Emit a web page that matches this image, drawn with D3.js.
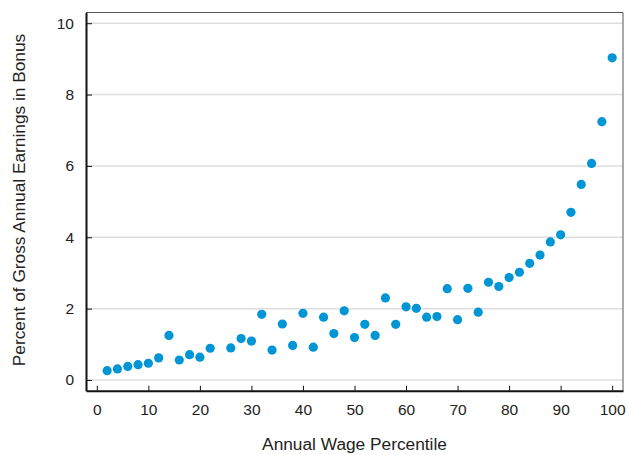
<!DOCTYPE html>
<html>
<head>
<meta charset="utf-8">
<script src="https://cdn.jsdelivr.net/npm/d3@7"></script>
<style>
  body { margin: 0; background: #fff; }
  svg { display: block; font-family: "Liberation Sans", Arial, sans-serif; }
</style>
</head>
<body>
<script>
// percentil (eje x) y porcentaje de bonus (eje y)
const percentiles = [2, 4, 6, 8, 10, 12, 14, 16, 18, 20, 22, 26, 28, 30, 32, 34, 36, 38, 40, 42,
  44, 46, 48, 50, 52, 54, 56, 58, 60, 62, 64, 66, 68, 70, 72, 74, 76, 78, 80, 82,
  84, 86, 88, 90, 92, 94, 96, 98, 100];
const bonus = [0.26, 0.31, 0.38, 0.43, 0.47, 0.62, 1.25, 0.56, 0.71, 0.64, 0.89, 0.90, 1.16, 1.09, 1.84, 0.84, 1.57, 0.97, 1.87, 0.92,
  1.76, 1.30, 1.94, 1.19, 1.56, 1.25, 2.30, 1.56, 2.05, 2.01, 1.76, 1.78, 2.56, 1.69, 2.57, 1.90, 2.74, 2.62, 2.87, 3.02,
  3.27, 3.50, 3.87, 4.07, 4.70, 5.48, 6.07, 7.24, 9.03];
const xTicks = [0, 10, 20, 30, 40, 50, 60, 70, 80, 90, 100];
const yTicks = [0, 2, 4, 6, 8, 10];

const width = 629, height = 455;
const margin = { top: 12.5, right: 6, bottom: 64.3, left: 86 };

const datos = percentiles.map((p, i) => ({ p: p, v: bonus[i] }));

const svg = d3.select("body").append("svg")
  .attr("width", width)
  .attr("height", height);

/* Escalas */
const x = d3.scaleLinear()
  .domain([-2.1, 102.1])
  .range([margin.left, width - margin.right]);

const y = d3.scaleLinear()
  .domain([-0.3, 10.3])
  .range([height - margin.bottom, margin.top]);

/* Rejilla */
svg.append("g")
  .selectAll("line")
  .data(yTicks)
  .join("line")
  .attr("x1", margin.left)
  .attr("x2", width - margin.right)
  .attr("y1", d => y(d))
  .attr("y2", d => y(d))
  .attr("stroke", "#dedede")
  .attr("stroke-width", 1.5);

/* Marco superior y derecho */
svg.append("path")
  .attr("d", `M${margin.left},${margin.top}H${width - margin.right}V${height - margin.bottom}`)
  .attr("fill", "none")
  .attr("stroke", "#555")
  .attr("stroke-width", 1);

/* Puntos */
svg.append("g")
  .selectAll("circle")
  .data(datos)
  .join("circle")
  .attr("cx", d => x(d.p))
  .attr("cy", d => y(d.v))
  .attr("r", 4.6)
  .attr("fill", "#0096d6");

/* Eje X */
const ejeX = svg.append("g")
  .attr("transform", `translate(0,${height - margin.bottom})`)
  .call(d3.axisBottom(x).tickValues(xTicks).tickSizeInner(-5).tickSizeOuter(0).tickPadding(13));
ejeX.select(".domain").attr("stroke", "#111").attr("stroke-width", 2);
ejeX.selectAll(".tick line").attr("stroke", "#111");
ejeX.selectAll("text").attr("font-size", 15.5).attr("fill", "#222").attr("font-family", "Liberation Sans, Arial, sans-serif");

/* Eje Y */
const ejeY = svg.append("g")
  .attr("transform", `translate(${margin.left},0)`)
  .call(d3.axisLeft(y).tickValues(yTicks).tickSizeInner(-6).tickSizeOuter(0).tickPadding(12));
ejeY.select(".domain").attr("stroke", "#111").attr("stroke-width", 2);
ejeY.selectAll(".tick line").attr("stroke", "#111");
ejeY.selectAll("text").attr("font-size", 15.5).attr("fill", "#222").attr("font-family", "Liberation Sans, Arial, sans-serif");

/* Etiquetas */
svg.append("text")
  .attr("x", 354.5)
  .attr("y", 450)
  .attr("text-anchor", "middle")
  .attr("font-size", 17.3)
  .attr("fill", "#222")
  .text("Annual Wage Percentile");

svg.append("text")
  .attr("transform", "translate(25,200) rotate(-90)")
  .attr("text-anchor", "middle")
  .attr("font-size", 17.3)
  .attr("fill", "#222")
  .text("Percent of Gross Annual Earnings in Bonus");
</script>
</body>
</html>
